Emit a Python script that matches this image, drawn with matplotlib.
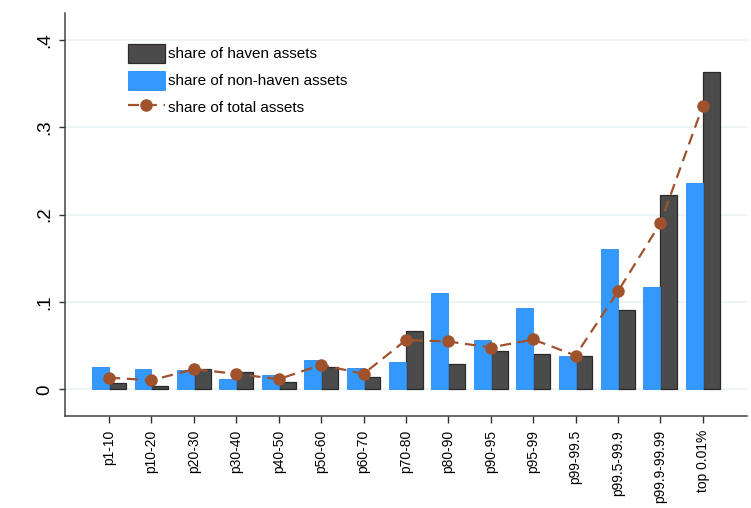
import numpy as np
import matplotlib
matplotlib.use("Agg")
import matplotlib.pyplot as plt

plt.rcParams['font.family'] = ['Liberation Sans', 'DejaVu Sans']

#data
groups = ["p1-10", "p10-20", "p20-30", "p30-40", "p40-50", "p50-60", "p60-70",
          "p70-80", "p80-90", "p90-95", "p95-99", "p99-99.5", "p99.5-99.9",
          "p99.9-99.99", "top 0.01%"]
haven = [0.0072, 0.0038, 0.0233, 0.0200, 0.0088, 0.0253, 0.0141,
         0.0662, 0.0294, 0.0437, 0.0406, 0.0383, 0.0903, 0.2225, 0.3632]
nonhaven = [0.0260, 0.0230, 0.0225, 0.0115, 0.0168, 0.0337, 0.0241,
            0.0310, 0.1100, 0.0567, 0.0934, 0.0383, 0.1610, 0.1168, 0.2356]
total = [0.0133, 0.0103, 0.0230, 0.0176, 0.0115, 0.0280, 0.0176,
         0.0563, 0.0547, 0.0478, 0.0570, 0.0386, 0.1120, 0.1900, 0.3240]
yticks = [0, 0.1, 0.2, 0.3, 0.4]
ylabels = ["0", ".1", ".2", ".3", ".4"]

x = np.arange(len(groups))
w = 0.4

fig = plt.figure(figsize=(7.51, 5.08), dpi=100)
ax = fig.add_axes([65/751, 1-416/508, 1-65/751-0.005, (416-12.7)/508])

for y in yticks:
    ax.axhline(y, color="#eaf2f3", lw=1.2, zorder=0)

b1 = ax.bar(x + w/2, haven, w, color="#4b4b4b", edgecolor="#2a2a2a", lw=0.9,
            label="share of haven assets", zorder=2)
b2 = ax.bar(x - w/2, nonhaven, w, color="#3399ff", edgecolor="#2a8cf0", lw=0.6,
            label="share of non-haven assets", zorder=2)
l1, = ax.plot(x, total, color="#a0522d", lw=1.6, ls=(0, (5, 3)), marker="o",
              markersize=8, label="share of total assets", zorder=3)

ax.set_xlim(-1.04, 15.05)
ax.set_ylim(-0.0306, 0.431)
ax.set_yticks(yticks)
ax.set_yticklabels(ylabels, rotation=90, va="center", fontsize=13.5)
ax.set_xticks(x)
ax.set_xticklabels(groups, rotation=90, fontsize=10)
ax.tick_params(axis="y", length=4.5, width=1, color="#333333", pad=4)
ax.tick_params(axis="x", length=5, width=1, color="#333333", pad=5)

for s in ["top", "right"]:
    ax.spines[s].set_visible(False)
for s in ["left", "bottom"]:
    ax.spines[s].set_color("#444444")
    ax.spines[s].set_linewidth(1.1)

ax.legend(handles=[b1, b2, l1], loc="upper left",
          bbox_to_anchor=(128/751, 1-44/508),
          bbox_transform=fig.transFigure, frameon=False, fontsize=11,
          handlelength=2.4, handleheight=1.5, handletextpad=0.2,
          labelspacing=0.55, borderpad=0, borderaxespad=0)

fig.savefig("out.png", dpi=100)
